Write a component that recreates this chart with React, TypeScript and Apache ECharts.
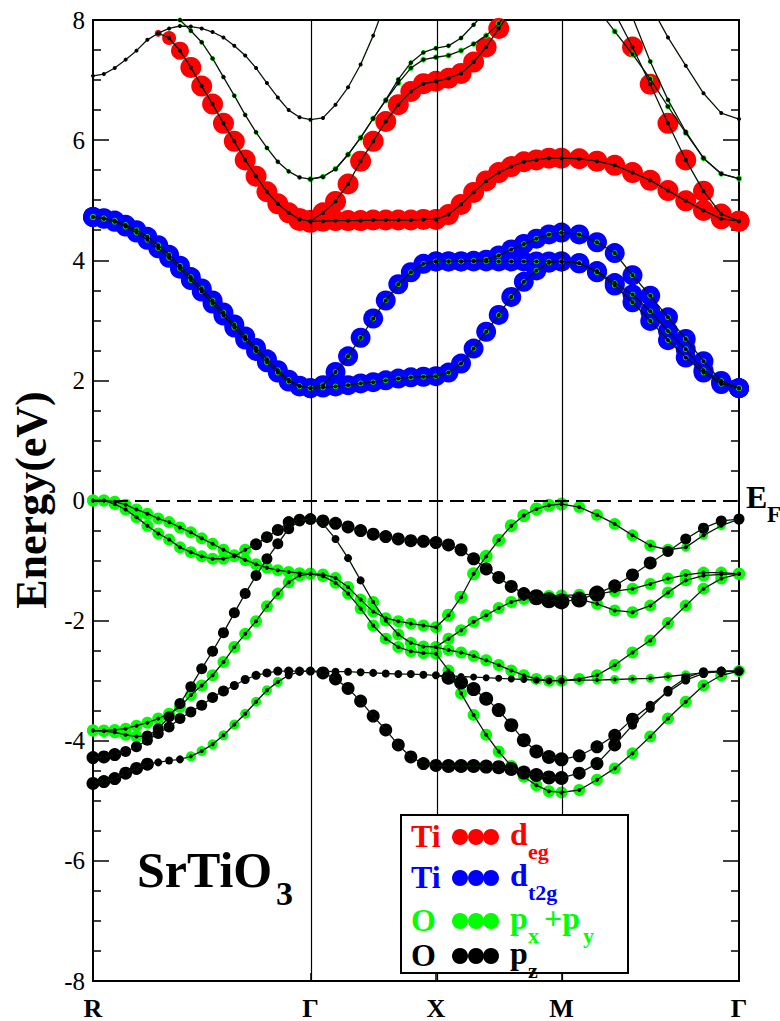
import React, { useEffect, useRef } from "react";
import * as echarts from "echarts";

const _ = null;
const FONT = "'Liberation Serif', 'DejaVu Serif', serif";

// path R - Γ - X - M - Γ
const kLabels = ["R", "Γ", "X", "M", "Γ"];
const segLengths = [0.866, 0.5, 0.5, 0.7071];
const segSteps = [20, 10, 10, 10];

function buildK() {
  const k = [0];
  let acc = 0;
  segLengths.forEach((L, s) => {
    for (let j = 1; j <= segSteps[s]; j++) k.push(acc + (L * j) / segSteps[s]);
    acc += L;
  });
  return k;
}
const kPts = buildK();
const kNodes = [0];
segLengths.forEach((L) => kNodes.push(kNodes[kNodes.length - 1] + L));
const kTotal = kNodes[kNodes.length - 1];

// join the four segments R-Γ (21), Γ-X (11), X-M (11), M-Γ (11)
function join(...segs) {
  const res = segs[0].slice();
  for (let s = 1; s < segs.length; s++) {
    if (res[res.length - 1] == null) res[res.length - 1] = segs[s][0];
    res.push(...segs[s].slice(1));
  }
  return res;
}
const N21 = Array(21).fill(null);
const N11 = Array(11).fill(null);

// ---------- conduction bands (eV) ----------
const cA_E = join(
  [7.07, 7.1, 7.2, 7.34, 7.49, 7.67, 7.78, 7.86, 7.9, 7.89, 7.86, 7.8, 7.71, 7.57, 7.41, 7.2, 6.95, 6.71, 6.5, 6.38, 6.34],
  [6.34, 6.37, 6.59, 6.88, 7.26, 7.74, 8.3, _, _, _, _],
  N11,
  [_, _, _, _, _, 8.25, 7.71, 7.24, 6.78, 6.45, 6.35]
);
const cC_E = join(
  [_, _, _, _, _, _, _, 8.15, 8.0, 7.82, 7.63, 7.36, 7.05, 6.74, 6.42, 6.13, 5.87, 5.64, 5.48, 5.38, 5.35],
  [5.35, 5.39, 5.52, 5.76, 6.04, 6.36, 6.67, 7.01, 7.29, 7.46, 7.53],
  [7.53, 7.57, 7.7, 7.92, 8.15, _, _, _, _, _, _],
  [_, _, _, _, 8.05, 7.31, 6.67, 6.14, 5.7, 5.44, 5.36]
);
const cD_E = join(
  N21,
  [5.35, 5.39, 5.52, 5.76, 6.04, 6.36, 6.66, 6.95, 7.2, 7.34, 7.38],
  [7.38, 7.41, 7.49, 7.6, 7.74, 7.94, 8.2, _, _, _, _],
  [_, _, 8.2, 7.81, 7.43, 7.02, 6.56, 6.12, 5.7, 5.44, 5.36]
);
const eg1_E = join(
  [_, _, _, _, _, _, 7.78, 7.7, 7.49, 7.21, 6.9, 6.6, 6.28, 5.98, 5.67, 5.4, 5.14, 4.94, 4.79, 4.68, 4.65],
  [4.65, 4.65, 4.66, 4.66, 4.66, 4.67, 4.67, 4.67, 4.67, 4.68, 4.68],
  [4.68, 4.76, 4.93, 5.13, 5.32, 5.46, 5.56, 5.64, 5.67, 5.7, 5.7],
  [5.7, 5.69, 5.65, 5.58, 5.46, 5.33, 5.16, 4.99, 4.83, 4.69, 4.65]
);
const eg2_E = join(
  N21,
  [4.65, 4.79, 4.98, 5.27, 5.65, 5.98, 6.31, 6.59, 6.81, 6.94, 6.98],
  [6.98, 7.03, 7.11, 7.3, 7.55, 7.86, 8.15, _, _, _, _],
  [_, _, _, 8.12, 7.55, 6.93, 6.28, 5.67, 5.15, 4.77, 4.65]
);
const t2g1_E = join(
  [4.72, 4.7, 4.66, 4.59, 4.5, 4.39, 4.25, 4.09, 3.91, 3.72, 3.53, 3.33, 3.13, 2.93, 2.73, 2.54, 2.35, 2.17, 2.01, 1.91, 1.87],
  [1.87, 1.92, 2.14, 2.4, 2.71, 3.03, 3.33, 3.6, 3.8, 3.94, 3.98],
  [3.98, 3.98, 3.98, 3.99, 4.01, 4.08, 4.18, 4.27, 4.36, 4.43, 4.46],
  [4.46, 4.43, 4.3, 4.12, 3.75, 3.41, 3.05, 2.69, 2.32, 1.99, 1.87]
);
const t2g2_E = join(
  [4.72, 4.69, 4.64, 4.56, 4.46, 4.34, 4.2, 4.04, 3.86, 3.67, 3.48, 3.28, 3.08, 2.88, 2.68, 2.49, 2.3, 2.13, 1.98, 1.9, 1.87],
  [1.87, 1.88, 1.9, 1.92, 1.95, 1.97, 2.0, 2.03, 2.05, 2.06, 2.07],
  [2.07, 2.13, 2.28, 2.53, 2.81, 3.09, 3.39, 3.64, 3.83, 3.96, 3.98],
  [3.98, 3.95, 3.82, 3.62, 3.43, 3.15, 2.82, 2.52, 2.17, 1.96, 1.87]
);
const t2g3_E = join(
  N21,
  N11,
  [3.98, 3.98, 3.98, 3.98, 3.98, 3.98, 3.98, 3.98, 3.98, 3.98, 3.98],
  [3.98, 3.95, 3.8, 3.58, 3.3, 2.99, 2.67, 2.38, 2.13, 1.94, 1.87]
);

// ---------- valence bands (eV) ----------
const vA_E = join(
  [0.0, 0.0, -0.02, -0.07, -0.15, -0.22, -0.3, -0.36, -0.45, -0.53, -0.63, -0.72, -0.82, -0.91, -0.99, -1.06, -1.12, -1.16, -1.19, -1.21, -1.22],
  [-1.22, -1.23, -1.29, -1.44, -1.65, -1.85, -1.96, -2.01, -2.05, -2.08, -2.11],
  [-2.11, -1.91, -1.61, -1.22, -0.93, -0.66, -0.42, -0.25, -0.14, -0.08, -0.06],
  [-0.06, -0.11, -0.24, -0.39, -0.58, -0.75, -0.82, -0.78, -0.58, -0.42, -0.31]
);
const vB_E = join(
  [0.0, 0.0, -0.06, -0.15, -0.28, -0.42, -0.55, -0.65, -0.78, -0.86, -0.93, -0.97, -0.97, -0.93, -0.82, -0.73, -0.61, -0.49, -0.36, -0.32, -0.31],
  [-0.31, -0.34, -0.38, -0.44, -0.5, -0.56, -0.6, -0.64, -0.67, -0.68, -0.7],
  [-0.7, -0.74, -0.82, -0.97, -1.14, -1.28, -1.43, -1.55, -1.61, -1.66, -1.68],
  [-1.68, -1.65, -1.55, -1.42, -1.24, -1.04, -0.85, -0.64, -0.46, -0.34, -0.31]
);
const vC_E = join(
  [-3.83, -3.84, -3.86, -3.9, -3.93, -3.92, -3.8, -3.6, -3.38, -3.1, -2.8, -2.51, -2.2, -1.87, -1.55, -1.25, -0.97, -0.72, -0.47, -0.34, -0.31],
  [-0.31, -0.39, -0.64, -0.96, -1.33, -1.69, -2.0, -2.23, -2.37, -2.43, -2.44],
  [-2.44, -2.3, -2.16, -2.02, -1.91, -1.79, -1.69, -1.64, -1.61, -1.59, -1.58],
  [-1.58, -1.57, -1.56, -1.51, -1.47, -1.39, -1.3, -1.24, -1.2, -1.2, -1.22]
);
const vD_E = join(
  [-3.83, -3.83, -3.82, -3.8, -3.75, -3.7, -3.63, -3.55, -3.44, -3.24, -3.08, -2.91, -2.69, -2.44, -2.22, -2.01, -1.76, -1.55, -1.36, -1.25, -1.22],
  [-1.22, -1.26, -1.37, -1.55, -1.8, -2.08, -2.3, -2.44, -2.51, -2.54, -2.55],
  [-2.55, -2.83, -3.21, -3.57, -3.9, -4.18, -4.42, -4.6, -4.74, -4.84, -4.86],
  [-4.86, -4.82, -4.65, -4.46, -4.21, -3.93, -3.63, -3.35, -3.08, -2.91, -2.84]
);
const vF_E = join(
  [-4.28, -4.27, -4.23, -4.18, -4.1, -3.99, -3.88, -3.77, -3.63, -3.52, -3.41, -3.28, -3.17, -3.08, -2.98, -2.91, -2.87, -2.84, -2.84, -2.84, -2.84],
  [-2.84, -2.84, -2.85, -2.85, -2.86, -2.87, -2.88, -2.89, -2.89, -2.9, -2.91],
  [-2.91, -2.92, -2.93, -2.94, -2.95, -2.96, -2.97, -2.98, -2.99, -3.0, -3.0],
  [-3.0, -2.99, -2.99, -2.98, -2.97, -2.96, -2.93, -2.9, -2.87, -2.85, -2.84]
);
const vG_E = join(
  [-4.71, -4.68, -4.63, -4.54, -4.46, -4.39, -4.36, -4.33, -4.31, -4.26, -4.17, -4.06, -3.91, -3.73, -3.55, -3.35, -3.16, -3.02, -2.91, -2.85, -2.84],
  [-2.84, -2.87, -2.97, -3.13, -3.34, -3.59, -3.82, -4.07, -4.27, -4.38, -4.41],
  [-4.41, -4.42, -4.42, -4.42, -4.43, -4.44, -4.47, -4.53, -4.57, -4.61, -4.62],
  [-4.62, -4.54, -4.38, -4.07, -3.74, -3.46, -3.16, -2.95, -2.85, -2.84, -2.84]
);
const vH_E = join(
  N21,
  N11,
  [-2.91, -2.95, -3.03, -3.14, -3.3, -3.49, -3.74, -3.99, -4.18, -4.27, -4.31],
  [-4.31, -4.25, -4.1, -3.91, -3.64, -3.41, -3.19, -2.99, -2.88, -2.84, -2.84]
);
const vI_E = join(
  N21,
  N11,
  [-2.44, -2.49, -2.53, -2.59, -2.66, -2.74, -2.83, -2.91, -2.97, -3.0, -3.0],
  [-3.0, -2.97, -2.91, -2.74, -2.53, -2.33, -2.04, -1.75, -1.47, -1.3, -1.22]
);
const vJ_E = join(
  N21,
  N11,
  N11,
  [-1.58, -1.64, -1.72, -1.83, -1.86, -1.75, -1.53, -1.33, -1.25, -1.23, -1.22]
);

// ---------- orbital character: runs of [points, orbital, circle size] ----------
const cA_W = [];
const cC_W = [[51, "g", 5]];
const cD_W = [[51, "g", 6]];
const eg1_W = [[6, "-", 0], [1, "r", 7], [1, "r", 14], [1, "r", 18], [10, "r", 21], [2, "r", 23], [30, "r", 21]];
const eg2_W = [[51, "r", 21]];
const t2g_W = [[51, "b", 20]];
const t2gO_W = [[51, "g", 5.5]];
const vA_W = [[21, "g", 12], [10, "g", 12], [10, "g", 13], [6, "g", 12], [4, "g", 9]];
const vB_W = [[15, "g", 12], [6, "k", 12], [10, "k", 13], [7, "k", 13], [3, "k", 16], [2, "k", 16], [3, "k", 13], [5, "k", 11]];
const vC_W = [[5, "g", 12], [15, "k", 11], [1, "k", 10], [4, "k", 8], [6, "g", 12], [10, "g", 12], [10, "g", 12]];
const vD_W = [[51, "g", 12]];
const vF_W = [[3, "k", 13], [10, "k", 11], [8, "k", 9], [10, "k", 8], [10, "k", 7], [10, "g", 9]];
const vG_W = [[6, "k", 13], [3, "k", 8], [9, "g", 10], [3, "k", 8], [10, "k", 13], [10, "k", 14], [3, "k", 13], [7, "k", 9]];
const vH_W = [[31, "-", 0], [10, "k", 14], [4, "k", 13], [6, "k", 9]];
const vI_W = [[31, "-", 0], [20, "g", 12]];
const vJ_W = [[41, "-", 0], [10, "g", 12]];

const bands = [
  { E: cA_E, w: [cA_W] },
  { E: cC_E, w: [cC_W] },
  { E: cD_E, w: [cD_W] },
  { E: eg1_E, w: [eg1_W] },
  { E: eg2_E, w: [eg2_W] },
  { E: t2g1_E, w: [t2g_W, t2gO_W] },
  { E: t2g2_E, w: [t2g_W, t2gO_W] },
  { E: t2g3_E, w: [t2g_W, t2gO_W] },
  { E: vA_E, w: [vA_W] },
  { E: vB_E, w: [vB_W] },
  { E: vC_E, w: [vC_W] },
  { E: vD_E, w: [vD_W] },
  { E: vF_E, w: [vF_W] },
  { E: vG_E, w: [vG_W] },
  { E: vH_E, w: [vH_W] },
  { E: vI_E, w: [vI_W] },
  { E: vJ_E, w: [vJ_W] },
];

const ORB = [
  { key: "r", color: "#ff0000" },
  { key: "b", color: "#0000ff" },
  { key: "g", color: "#00ff00" },
  { key: "k", color: "#000000" },
];

function expand(runs) {
  const out = [];
  runs.forEach(([n, c, s]) => {
    for (let i = 0; i < n; i++) out.push([c, s]);
  });
  return out;
}

function buildSeries() {
  const buckets = { r: [], b: [], g: [], k: [] };
  const lines = [];
  bands.forEach((b) => {
    b.w.forEach((runs) => {
      const ex = expand(runs);
      ex.forEach(([c, s], i) => {
        const e = b.E[i];
        if (e == null || c === "-" || !buckets[c]) return;
        buckets[c].push([kPts[i], e, s]);
      });
    });
    let cur = [];
    b.E.forEach((e, i) => {
      if (e == null) {
        if (cur.length > 1) lines.push(cur);
        cur = [];
      } else cur.push([kPts[i], e]);
    });
    if (cur.length > 1) lines.push(cur);
  });

  const series = [];
  series.push({
    type: "line",
    data: [],
    z: 1,
    silent: true,
    markLine: {
      silent: true,
      symbol: "none",
      label: { show: false },
      animation: false,
      data: [
        { xAxis: kNodes[1], lineStyle: { color: "#000", width: 1.2, type: "solid" } },
        { xAxis: kNodes[2], lineStyle: { color: "#000", width: 1.2, type: "solid" } },
        { xAxis: kNodes[3], lineStyle: { color: "#000", width: 1.2, type: "solid" } },
        { yAxis: 0, lineStyle: { color: "#000", width: 2, type: [14, 7] } },
      ],
    },
  });
  ORB.forEach((o, idx) => {
    series.push({
      type: "scatter",
      data: buckets[o.key],
      symbol: "circle",
      symbolSize: (v) => v[2],
      itemStyle: { color: o.color, opacity: 1 },
      z: 2 + idx,
      clip: true,
      silent: true,
    });
  });
  lines.forEach((d) => {
    series.push({
      type: "line",
      data: d,
      symbol: "circle",
      symbolSize: 4,
      showSymbol: true,
      itemStyle: { color: "#000" },
      lineStyle: { color: "#061806", width: 1.3 },
      z: 8,
      clip: true,
      silent: true,
    });
  });
  return series;
}

function nodeLabel(v) {
  let best = 0;
  kNodes.forEach((n, i) => {
    if (Math.abs(n - v) < Math.abs(kNodes[best] - v)) best = i;
  });
  return kLabels[best];
}

function txt(x, y, text, color, size, extra = {}) {
  return {
    type: "text",
    x,
    y,
    z: 101,
    style: {
      text,
      fill: color,
      fontFamily: FONT,
      fontWeight: "bold",
      fontSize: size,
      verticalAlign: "middle",
      ...extra,
    },
  };
}

function legendGraphic() {
  const rows = [
    { el: "Ti", col: "#ff0000", y: 836, main: "d", sub: "eg" },
    { el: "Ti", col: "#0000ff", y: 877, main: "d", sub: "t2g" },
    { el: "O", col: "#00ff00", y: 920, main: "p", sub: "x" },
    { el: "O", col: "#000000", y: 955, main: "p", sub: "z" },
  ];
  const els = [
    {
      type: "rect",
      shape: { x: 401, y: 815, width: 227, height: 158 },
      style: { fill: "#fff", stroke: "#000", lineWidth: 2 },
      z: 100,
    },
  ];
  rows.forEach((r) => {
    els.push(txt(411, r.y, r.el, r.col, 32));
    [460, 476, 491].forEach((cx) =>
      els.push({ type: "circle", shape: { cx, cy: r.y + 1, r: 8 }, style: { fill: r.col }, z: 101 })
    );
    els.push(txt(510, r.y - 2, r.main, r.col, 32));
    els.push(txt(528, r.y + 15, r.sub, r.col, 22));
  });
  els.push(txt(544, 918, "+p", "#00ff00", 32));
  els.push(txt(583, 935, "y", "#00ff00", 22));
  return els;
}

export default function App() {
  const ref = useRef(null);
  useEffect(() => {
    document.body.style.margin = "0";
    const chart = echarts.init(ref.current, null, { renderer: "svg" });
    const axisCommon = {
      type: "value",
      min: -8,
      max: 8,
      interval: 2,
      axisLine: { show: true, onZero: false, lineStyle: { color: "#000", width: 2 } },
      axisTick: { show: true, inside: true, length: 16, lineStyle: { color: "#000", width: 1.5 } },
      minorTick: { show: true, splitNumber: 4, length: 8, lineStyle: { color: "#000", width: 1.5 } },
      splitLine: { show: false },
    };
    chart.setOption({
      animation: false,
      backgroundColor: "#ffffff",
      grid: {
        left: 93,
        top: 20,
        width: 646,
        height: 963,
        show: true,
        borderColor: "#000",
        borderWidth: 2,
        backgroundColor: "transparent",
      },
      xAxis: {
        type: "value",
        min: 0,
        max: kTotal,
        axisLine: { show: true, onZero: false, lineStyle: { color: "#000", width: 2 } },
        axisTick: { show: true, inside: true, length: 8, customValues: kNodes, lineStyle: { color: "#000", width: 1.5 } },
        axisLabel: {
          show: true,
          customValues: kNodes,
          formatter: (v) => nodeLabel(v),
          fontFamily: FONT,
          fontWeight: "bold",
          fontSize: 26,
          color: "#000",
          margin: 14,
        },
        splitLine: { show: false },
      },
      yAxis: [
        {
          ...axisCommon,
          position: "left",
          axisLabel: { fontFamily: FONT, fontSize: 25, color: "#000", margin: 8 },
        },
        {
          ...axisCommon,
          position: "right",
          axisLabel: { show: false },
        },
      ],
      series: buildSeries(),
      graphic: [
        {
          type: "text",
          x: 31,
          y: 500,
          rotation: Math.PI / 2,
          style: {
            text: "Energy(eV)",
            fill: "#000",
            fontFamily: FONT,
            fontWeight: "bold",
            fontSize: 44,
            align: "center",
            verticalAlign: "middle",
          },
        },
        txt(746, 497, "E", "#000", 32),
        txt(767, 514, "F", "#000", 23),
        txt(137, 870, "SrTiO", "#000", 50),
        txt(276, 893, "3", "#000", 34),
        ...legendGraphic(),
      ],
    });
    return () => chart.dispose();
  }, []);
  return <div ref={ref} style={{ width: 780, height: 1021 }} />;
}
